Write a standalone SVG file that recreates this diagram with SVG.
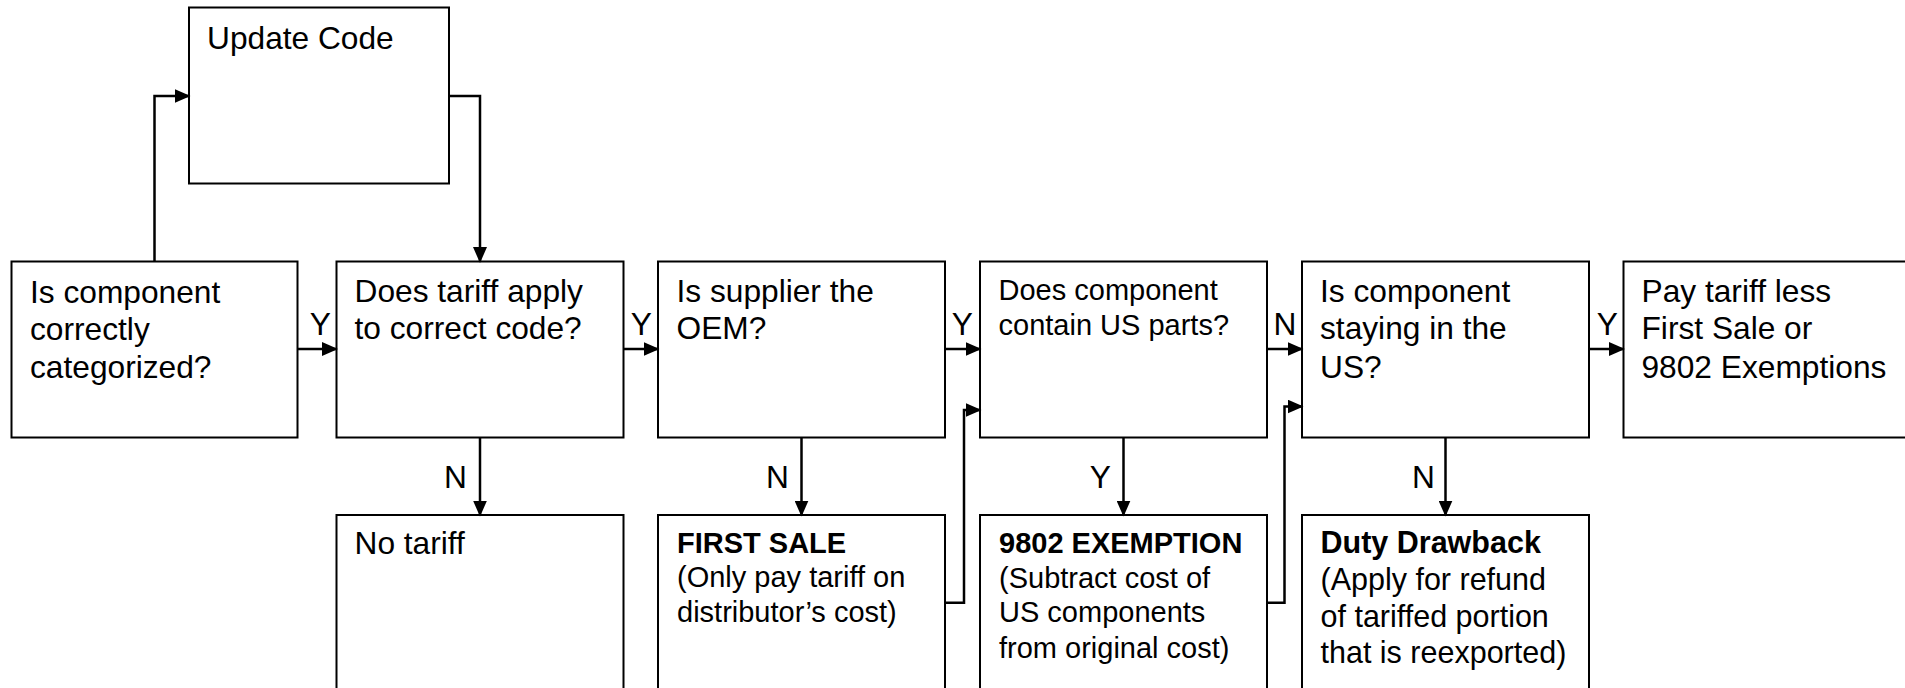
<svg xmlns="http://www.w3.org/2000/svg" width="1905" height="688" viewBox="0 0 1905 688">
  <defs>
    <style>
      .box { fill: #ffffff; stroke: #000000; stroke-width: 2; }
      .txt { font-family: "Liberation Sans", Arial, sans-serif; font-size: 31.7px; fill: #000000; }
      .sm { font-size: 29px; }
      .md { font-size: 30.5px; }
      .b { font-weight: bold; }
      .lbl { font-family: "Liberation Sans", Arial, sans-serif; font-size: 31.7px; fill: #000000; }
      .wire { fill: none; stroke: #000000; stroke-width: 2.5; marker-end: url(#arrow); }
    </style>
    <marker id="arrow" markerUnits="userSpaceOnUse" markerWidth="16" markerHeight="14" refX="14.5" refY="7" orient="auto">
      <path d="M0,0 L16,7 L0,14 Z" fill="#000000"/>
    </marker>
  </defs>

  <rect width="1905" height="688" fill="#ffffff"/>

  <!-- top row: decision steps -->
  <g id="node-categorized">
    <rect class="box" x="11.5" y="261.5" width="286" height="176"/>
    <text class="txt" x="30" y="302.7">Is component</text>
    <text class="txt" x="30" y="340">correctly</text>
    <text class="txt" x="30" y="377.7">categorized?</text>
  </g>

  <g id="node-update-code">
    <rect class="box" x="189" y="7.5" width="260" height="176"/>
    <text class="txt" x="207" y="49">Update Code</text>
  </g>

  <g id="node-tariff-applies">
    <rect class="box" x="336.5" y="261.5" width="287" height="176"/>
    <text class="txt" x="354.5" y="301.7">Does tariff apply</text>
    <text class="txt" x="354.5" y="339.3">to correct code?</text>
  </g>

  <g id="node-supplier-oem">
    <rect class="box" x="658" y="261.5" width="287" height="176"/>
    <text class="txt" x="676.5" y="301.7">Is supplier the</text>
    <text class="txt" x="676.5" y="339.3">OEM?</text>
  </g>

  <g id="node-us-parts">
    <rect class="box" x="980" y="261.5" width="287" height="176"/>
    <text class="txt sm" x="998.5" y="300">Does component</text>
    <text class="txt sm" x="998.5" y="335">contain US parts?</text>
  </g>

  <g id="node-staying-us">
    <rect class="box" x="1302" y="261.5" width="287" height="176"/>
    <text class="txt" x="1320" y="301.7">Is component</text>
    <text class="txt" x="1320" y="339.3">staying in the</text>
    <text class="txt" x="1320" y="377.7">US?</text>
  </g>

  <g id="node-pay-tariff">
    <rect class="box" x="1623.5" y="261.5" width="300" height="176"/>
    <text class="txt" x="1641.5" y="301.7">Pay tariff less</text>
    <text class="txt" x="1641.5" y="339.3">First Sale or</text>
    <text class="txt" x="1641.5" y="377.7">9802 Exemptions</text>
  </g>

  <!-- bottom row: outcomes -->
  <g id="node-no-tariff">
    <rect class="box" x="336.5" y="515" width="287" height="200"/>
    <text class="txt" x="354.5" y="554">No tariff</text>
  </g>

  <g id="node-first-sale">
    <rect class="box" x="658" y="515" width="287" height="200"/>
    <text class="txt sm b" x="677" y="552.7">FIRST SALE</text>
    <text class="txt sm" x="677" y="587">(Only pay tariff on</text>
    <text class="txt sm" x="677" y="621.5">distributor’s cost)</text>
  </g>

  <g id="node-9802-exemption">
    <rect class="box" x="980" y="515" width="287" height="200"/>
    <text class="txt sm b" x="999" y="553.3">9802 EXEMPTION</text>
    <text class="txt sm" x="999" y="587.8">(Subtract cost of</text>
    <text class="txt sm" x="999" y="622.3">US components</text>
    <text class="txt sm" x="999" y="657.5">from original cost)</text>
  </g>

  <g id="node-duty-drawback">
    <rect class="box" x="1302" y="515" width="287" height="200"/>
    <text class="txt md b" x="1320.5" y="553.3">Duty Drawback</text>
    <text class="txt md" x="1320.5" y="590">(Apply for refund</text>
    <text class="txt md" x="1320.5" y="626.5">of tariffed portion</text>
    <text class="txt md" x="1320.5" y="662.7">that is reexported)</text>
  </g>

  <!-- connectors and their Y / N labels -->
  <g id="connectors">
    <path class="wire" d="M154.5 261.5 V96 H189"/>
    <path class="wire" d="M449 96 H480 V261.5"/>

    <path class="wire" d="M297.5 349 H336.5"/>
    <path class="wire" d="M623.5 349 H658"/>
    <path class="wire" d="M945 349 H980"/>
    <path class="wire" d="M1267 349 H1302"/>
    <path class="wire" d="M1589 349 H1623.5"/>

    <path class="wire" d="M480 437.5 V515"/>
    <path class="wire" d="M801.5 437.5 V515"/>
    <path class="wire" d="M1123.5 437.5 V515"/>
    <path class="wire" d="M1445.5 437.5 V515"/>

    <path class="wire" d="M945 602.7 H964 V410 H980"/>
    <path class="wire" d="M1267 602.7 H1284.5 V406.5 H1302"/>

    <g id="labels" text-anchor="end">
      <text class="lbl" x="331" y="335">Y</text>
      <text class="lbl" x="652" y="335">Y</text>
      <text class="lbl" x="973" y="335">Y</text>
      <text class="lbl" x="1296.5" y="335">N</text>
      <text class="lbl" x="1618" y="335">Y</text>
      <text class="lbl" x="467" y="487.7">N</text>
      <text class="lbl" x="789" y="487.7">N</text>
      <text class="lbl" x="1111" y="487.7">Y</text>
      <text class="lbl" x="1435" y="487.7">N</text>
    </g>
  </g>
</svg>
